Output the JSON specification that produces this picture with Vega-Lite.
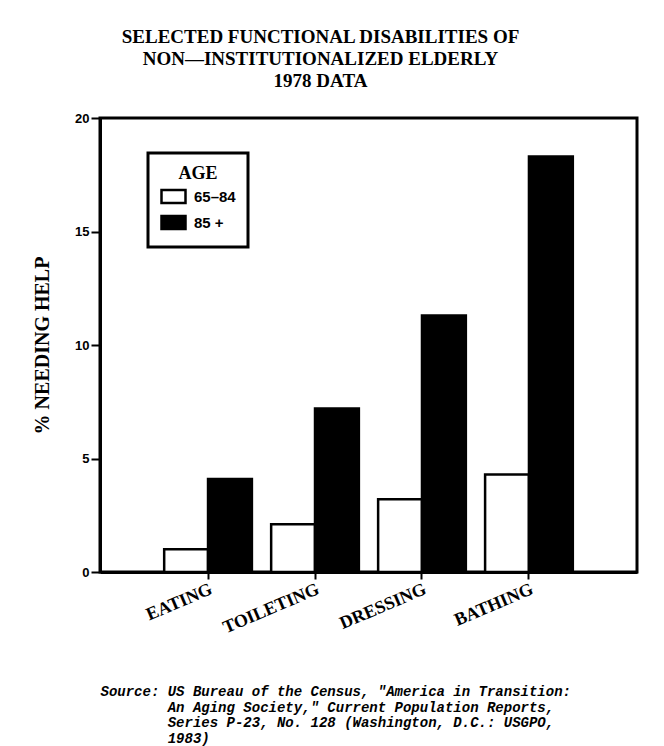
{
  "$schema": "https://vega.github.io/schema/vega-lite/v6.json",
  "autosize": "none",
  "width": 537,
  "height": 454,
  "padding": {"left": 100, "top": 118, "right": 27, "bottom": 174},
  "background": "white",
  "title": {
    "text": ["SELECTED FUNCTIONAL DISABILITIES OF", "NON\u2014INSTITUTIONALIZED ELDERLY", "1978 DATA"],
    "font": "Liberation Serif",
    "fontSize": 19,
    "fontWeight": "bold",
    "color": "black",
    "lineHeight": 22,
    "anchor": "middle",
    "dx": -48,
    "offset": 21
  },
  "data": {
    "values": [
      {"activity": "EATING", "age": "65\u201384", "pct": 1.0},
      {"activity": "EATING", "age": "85 +", "pct": 4.1},
      {"activity": "TOILETING", "age": "65\u201384", "pct": 2.1},
      {"activity": "TOILETING", "age": "85 +", "pct": 7.2},
      {"activity": "DRESSING", "age": "65\u201384", "pct": 3.2},
      {"activity": "DRESSING", "age": "85 +", "pct": 11.3},
      {"activity": "BATHING", "age": "65\u201384", "pct": 4.3},
      {"activity": "BATHING", "age": "85 +", "pct": 18.3}
    ]
  },
  "mark": {"type": "bar", "stroke": "black", "strokeWidth": 2.5, "strokeJoin": "miter"},
  "encoding": {
    "x": {
      "field": "activity",
      "type": "nominal",
      "sort": ["EATING", "TOILETING", "DRESSING", "BATHING"],
      "scale": {"paddingInner": 0.18, "paddingOuter": 0.6},
      "axis": {
        "title": [
          "Source:\u00a0US Bureau of the Census, \"America in Transition:",
          "\u200b\u00a0\u00a0\u00a0\u00a0\u00a0\u00a0\u00a0\u00a0An Aging Society,\" Current Population Reports,",
          "\u200b\u00a0\u00a0\u00a0\u00a0\u00a0\u00a0\u00a0\u00a0Series P-23, No. 128 (Washington, D.C.: USGPO,",
          "\u200b\u00a0\u00a0\u00a0\u00a0\u00a0\u00a0\u00a0\u00a01983)"
        ],
        "titleFont": "Liberation Mono",
        "titleFontSize": 14,
        "titleFontStyle": "italic",
        "titleFontWeight": "bold",
        "titleColor": "black",
        "titleAnchor": "start",
        "titleAlign": "left",
        "titleLineHeight": 15.5,
        "titlePadding": 48,
        "labelAngle": -23,
        "labelAlign": "right",
        "labelBaseline": "top",
        "labelFont": "Liberation Serif",
        "labelFontSize": 18,
        "labelFontWeight": "bold",
        "labelColor": "black",
        "labelPadding": 1,
        "ticks": true,
        "tickSize": 7,
        "tickWidth": 2,
        "tickColor": "black",
        "domainColor": "black",
        "domainWidth": 3
      }
    },
    "xOffset": {"field": "age", "type": "nominal", "sort": ["65\u201384", "85 +"]},
    "y": {
      "field": "pct",
      "type": "quantitative",
      "scale": {"domain": [0, 20], "nice": false},
      "axis": {
        "title": "% NEEDING HELP",
        "titleFont": "Liberation Serif",
        "titleFontSize": 20,
        "titleFontWeight": "bold",
        "titleColor": "black",
        "titlePadding": 22,
        "values": [0, 5, 10, 15, 20],
        "grid": false,
        "labelFont": "Liberation Sans",
        "labelFontSize": 13,
        "labelFontWeight": "bold",
        "labelColor": "black",
        "labelPadding": 2,
        "tickSize": 9,
        "tickWidth": 2,
        "tickColor": "black",
        "domainColor": "black",
        "domainWidth": 3
      }
    },
    "fill": {
      "field": "age",
      "type": "nominal",
      "sort": ["65\u201384", "85 +"],
      "scale": {"domain": ["65\u201384", "85 +"], "range": ["white", "black"]},
      "legend": {
        "title": "AGE",
        "orient": "none",
        "legendX": 48,
        "legendY": 35,
        "padding": 12,
        "strokeColor": "black",
        "fillColor": "white",
        "titleFont": "Liberation Serif",
        "titleFontSize": 18,
        "titleFontWeight": "bold",
        "titleColor": "black",
        "titleAnchor": "middle",
        "titleAlign": "center",
        "titlePadding": 0,
        "labelFont": "Liberation Sans",
        "labelFontSize": 15,
        "labelFontWeight": "bold",
        "labelColor": "black",
        "labelOffset": 7,
        "rowPadding": -3,
        "symbolType": "M-1,-0.55H1V0.55H-1Z",
        "symbolSize": 576,
        "symbolStrokeColor": "black",
        "symbolStrokeWidth": 2.5
      }
    }
  },
  "config": {
    "view": {"stroke": "black", "strokeWidth": 3},
    "legend": {"strokeWidth": 3}
  }
}
